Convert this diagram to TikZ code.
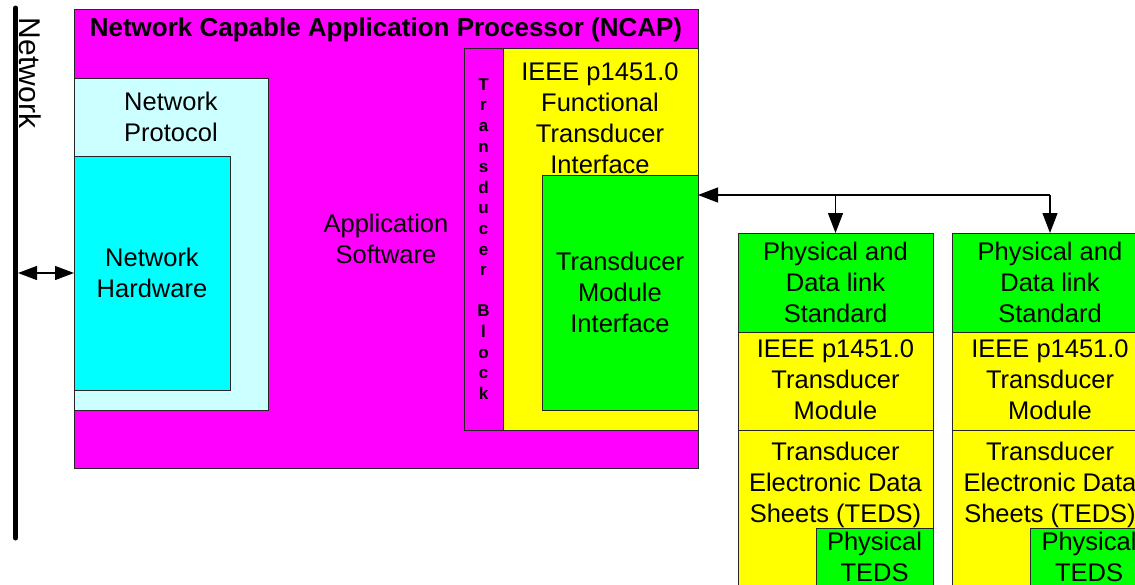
\documentclass[tikz,border=0pt]{standalone}
\usepackage{fontspec}
\setmainfont{Liberation Sans}
\usetikzlibrary{arrows.meta}
\definecolor{cmag}{RGB}{255,0,255}
\definecolor{clcyan}{RGB}{204,255,255}
\definecolor{ccyan}{RGB}{0,255,255}
\definecolor{cyel}{RGB}{255,255,0}
\definecolor{cgreen}{RGB}{0,255,0}
\begin{document}
\begin{tikzpicture}[x=1pt,y=-1pt,
  box/.style={draw=black!85, line width=0.8pt, inner sep=0pt, outer sep=0pt, anchor=north west},
  txt/.style={font=\fontsize{25.5}{31}\selectfont, align=center, inner sep=0pt},
  conn/.style={line width=1.2pt, -{Triangle[length=20pt,width=15pt]}},
]
\useasboundingbox (0,0) rectangle (1135,584);
\clip (0,0) rectangle (1135,584);
\fill[white] (0,0) rectangle (1135,584);

% Network bus
\coordinate (nt) at (15.5,8);
\coordinate (nb) at (15.5,538);
\draw[line width=5pt, line cap=round] (nt) -- (nb);
\node[font=\fontsize{30}{36}\selectfont, rotate=-90, inner sep=0pt] (netlbl) at (30,73) {Network};

% NCAP
\node[box, fill=cmag, minimum width=624pt, minimum height=459pt] (ncap) at (74,9) {};
\node[font=\fontsize{26}{31}\selectfont\bfseries, inner sep=0pt] (ncaplbl) at (386,30) {Network Capable Application Processor (NCAP)};

\node[box, fill=clcyan, minimum width=194pt, minimum height=332pt] (np) at (74,78) {};
\node[txt] (nplbl) at (171,116.5) {Network\\Protocol};
\node[box, fill=ccyan, minimum width=156pt, minimum height=234pt] (nhw) at (74,156) {};
\node[txt] (nhwlbl) at (152,272.5) {Network\\Hardware};

\node[txt] (applbl) at (386,239) {Application\\Software};

\node[box, fill=cmag, minimum width=39pt, minimum height=382pt] (tb) at (464,48) {};
\node[font=\fontsize{17}{20.6}\selectfont\bfseries, align=center, inner sep=0pt] (tblbl) at (483.5,239)
  {T\\r\\a\\n\\s\\d\\u\\c\\e\\r\\[20.6pt]B\\l\\o\\c\\k};

\node[box, fill=cyel, minimum width=195pt, minimum height=382pt] (fti) at (503,48) {};
\node[txt] (ftilbl) at (600,118.5) {IEEE p1451.0\\Functional\\Transducer\\Interface};
\node[box, fill=cgreen, minimum width=156pt, minimum height=235pt] (tmi) at (542,175) {};
\node[txt] (tmilbl) at (620,292) {Transducer\\Module\\Interface};

% Modules
\foreach \i/\dx in {1/0, 2/214.5} {
  \node[box, fill=cgreen, minimum width=195pt, minimum height=99pt] (m\i a) at (738+\dx,233) {};
  \node[txt] (m\i alb) at (835.5+\dx,282) {Physical and\\Data link\\Standard};
  \node[box, fill=cyel, minimum width=195pt, minimum height=98pt] (m\i b) at (738+\dx,332) {};
  \node[txt] (m\i blb) at (835.5+\dx,380) {IEEE p1451.0\\Transducer\\Module};
  \node[box, fill=cyel, minimum width=195pt, minimum height=190pt] (m\i c) at (738+\dx,430) {};
  \node[txt] (m\i clb) at (835.5+\dx,484.5) {Transducer\\Electronic Data\\Sheets (TEDS)};
  \node[box, fill=cgreen, minimum width=117pt, minimum height=92pt] (m\i d) at (816+\dx,528) {};
  \node[txt] (m\i dlb) at (874.5+\dx,556.5) {Physical\\TEDS};
}

% Connectors
\coordinate (na) at (18,273);
\draw[line width=1.2pt, {Triangle[length=19pt,width=14pt]}-{Triangle[length=19pt,width=14pt]}] (na) -- (na -| nhw.west);
\coordinate (bus) at (0,195);
\draw[conn] (m2a.north |- bus) -- (bus -| tmi.east);
\draw[conn] (m1a.north |- bus) -- (m1a.north);
\draw[conn] (m2a.north |- bus) -- (m2a.north);
\end{tikzpicture}
\end{document}
